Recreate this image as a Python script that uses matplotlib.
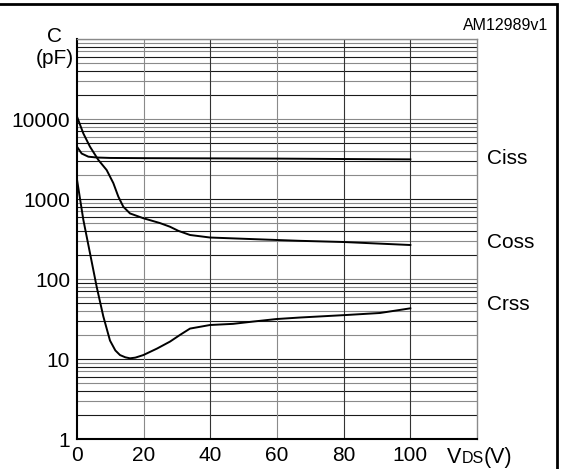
import matplotlib
matplotlib.use("Agg")
import matplotlib.pyplot as plt
import numpy as np

plt.rcParams['font.family'] = ['Liberation Sans', 'DejaVu Sans']

# VDS in volts, C in pF
ciss_v = [0, 1.4, 3.4, 5.9, 10, 20, 40, 60, 80, 100]
ciss_c = [4500, 3700, 3380, 3300, 3260, 3240, 3220, 3200, 3160, 3130]

coss_v = [0, 1.9, 3.9, 6.4, 8.9, 10.9, 12.4, 13.9, 15.9, 19.9, 24.9, 27.9,
          30.4, 33.9, 39.9, 52.9, 66.9, 80, 100]
coss_c = [10700, 6600, 4500, 3080, 2300, 1580, 1070, 800, 660, 575, 500, 450,
          400, 355, 330, 315, 300, 290, 266]

crss_v = [0, 1.9, 3.9, 5.9, 7.9, 9.9, 11.5, 12.9, 14.5, 15.9, 17.5, 19.9, 24,
          27.9, 30.9, 33.9, 39.9, 46.8, 52.9, 59.9, 66.9, 80.9, 90.9, 100]
crss_c = [1750, 550, 210, 80, 34, 17, 12.8, 11.2, 10.5, 10.2, 10.4, 11.2, 13.5,
          16.5, 20, 24, 26.6, 27.5, 29.4, 31.6, 33, 35.5, 37.6, 43]

x_ticks = [0, 20, 40, 60, 80, 100]
y_ticks = [1, 10, 100, 1000, 10000]
y_labels = ['1', '10', '100', '1000', '10000']

fig = plt.figure(figsize=(5.61, 4.69), dpi=100)
ax = fig.add_axes([77 / 561, 1 - 439 / 469, 400 / 561, 400 / 469])
ax.set_yscale('log')
ax.set_xlim(0, 120)
ax.set_ylim(1, 100000)

# grid like the datasheet: 9 lines per decade, mixed dark/grey
k = 0
for dec in range(5):
    for m in range(2, 11):
        col = '#1a1a1a' if k % 2 == 0 else '#8a8a8a'
        ax.axhline(m * 10 ** dec, color=col, lw=0.8, zorder=1)
        k += 1
for xv, col in zip([20, 40, 60, 80, 100],
                   ['#8a8a8a', '#333333', '#8a8a8a', '#333333', '#333333']):
    ax.axvline(xv, color=col, lw=0.8, zorder=1)

for v, c in [(ciss_v, ciss_c), (coss_v, coss_c), (crss_v, crss_c)]:
    ax.plot(v, c, color='black', lw=1.4, zorder=3, solid_joinstyle='round')

ax.set_xticks(x_ticks)
ax.set_xticklabels([str(t) for t in x_ticks])
ax.set_yticks(y_ticks)
ax.set_yticklabels(y_labels)
ax.minorticks_off()
ax.tick_params(length=0, labelsize=15, pad=5)
ax.tick_params(axis='y', pad=5)

for s in ['left', 'bottom']:
    ax.spines[s].set_linewidth(1.5)
    ax.spines[s].set_color('black')
for s in ['top', 'right']:
    ax.spines[s].set_linewidth(1.0)
    ax.spines[s].set_color('#8a8a8a')

# curve names
fig.text(487 / 561, 1 - 158 / 469, 'Ciss', fontsize=15, va='center', ha='left')
fig.text(487 / 561, 1 - 242 / 469, 'Coss', fontsize=15, va='center', ha='left')
fig.text(487 / 561, 1 - 305 / 469, 'Crss', fontsize=15, va='center', ha='left')

fig.text(55 / 561, 1 - 47 / 469, 'C\n(pF)', fontsize=15, ha='center', va='center',
         multialignment='center', linespacing=1.2)
fig.text(548 / 561, 1 - 26 / 469, 'AM12989v1', fontsize=11.5, ha='right', va='center')

# V_DS(V) with small caps-like DS on the baseline
fig.canvas.draw()
r = fig.canvas.get_renderer()
x0 = 447
yb = 1 - 463 / 469
t1 = fig.text(x0 / 561, yb, 'V', fontsize=15.5, va='baseline')
w1 = t1.get_window_extent(r).width
t2 = fig.text((x0 + w1) / 561, yb, 'DS', fontsize=11.5, va='baseline')
w2 = t2.get_window_extent(r).width
fig.text((x0 + w1 + w2) / 561, yb, '(V)', fontsize=15.5, va='baseline')

# outer frame of the datasheet figure
fig.add_artist(plt.Rectangle((-0.02, -0.02), 0.02 + 557 / 561, 0.02 + 1 - 4 / 469,
                             transform=fig.transFigure, fill=False,
                             edgecolor='black', lw=2.0))

fig.savefig('out.png', dpi=100)
